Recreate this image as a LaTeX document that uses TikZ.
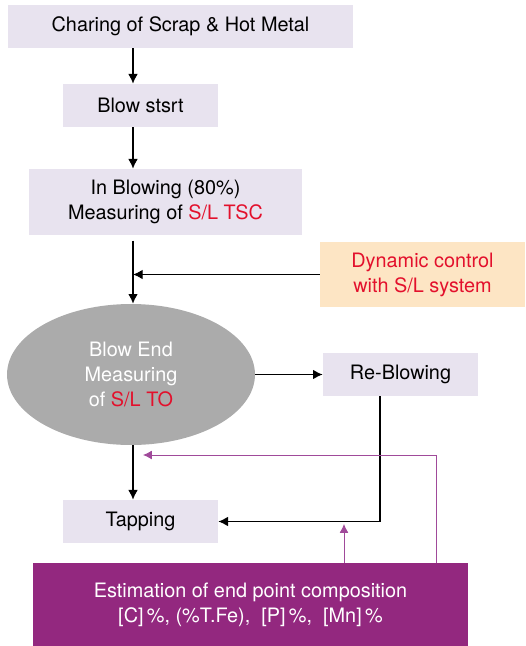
\documentclass[tikz,border=0pt]{standalone}
\usepackage{fontspec}
\setmainfont{TeX Gyre Heros}
\usepackage{xcolor}
\usepackage{tikz}
\usetikzlibrary{arrows.meta,positioning,shapes.geometric}

\begin{document}
\begin{tikzpicture}[
    x=0.02cm, y=-0.02cm,
    font=\fontsize{11.3}{14.2}\selectfont,
    %styles
    stepbox/.style={fill=stepcolor,inner sep=0pt,align=center,minimum height=0.86cm},
    arr/.style={-{Latex[length=5.5pt,width=5.5pt]},line width=0.7pt},
    feed/.style={-{Latex[length=5pt,width=5pt]},line width=0.5pt,linecolor},
  ]
  %colors
  \definecolor{stepcolor}{HTML}{E8E3EF}
  \definecolor{dyncolor}{HTML}{FDE5C4}
  \definecolor{endcolor}{HTML}{ABABAB}
  \definecolor{estcolor}{HTML}{93287F}
  \definecolor{linecolor}{HTML}{A04A9A}
  \definecolor{slcolor}{HTML}{E3102C}
  \useasboundingbox (0,0) rectangle (525,646);

  \node[stepbox,minimum width=6.9cm] (charge) at (180.5,26.5) {Charing of Scrap \& Hot Metal};
  \node[stepbox,minimum width=3.1cm] (start) at (140.5,105.5) {Blow stsrt};
  \node[stepbox,minimum width=5.46cm,minimum height=1.32cm] (inblow) at (165.5,202)
  {In Blowing (80\%)\\Measuring of \textcolor{slcolor}{S/L TSC}};
  \node[fill=dyncolor,inner sep=0pt,align=center,minimum width=4.1cm,minimum height=1.3cm,text=slcolor]
  (dyn) at (422.5,274.5) {Dynamic control\\with S/L system};
  \node[ellipse,fill=endcolor,inner sep=0pt,align=center,minimum width=4.96cm,minimum height=2.82cm,text=white]
  (blowend) at (131,374.5) {Blow End\\Measuring\\of \textcolor{slcolor}{S/L TO}};
  \node[stepbox,minimum width=3.1cm] (reblow) at (400.5,374.5) {Re-Blowing};
  \node[stepbox,minimum width=3.1cm] (tap) at (140.5,521.5) {Tapping};
  \node[fill=estcolor,inner sep=0pt,align=center,minimum width=8.7cm,minimum height=1.66cm,text=white]
  (est) at (250.5,604.5) {Estimation of end point composition\\\relax
    [C]\,\%, (\%T.Fe),\ \ [P]\,\%,\ \ [Mn]\,\%};

  %main line
  \coordinate (col) at (133,0);
  \draw[arr] (charge.south -| col) -- (start.north -| col);
  \draw[arr] (start.south -| col) -- (inblow.north -| col);
  \draw[arr,shorten <=3pt] (inblow.south -| col) -- (blowend.north -| col);
  \coordinate (join) at (col |- dyn);
  \draw[arr] (dyn.west) -- (join);
  \draw[arr] (blowend.east) -- (reblow.west);
  \draw[arr] (blowend.south -| col) -- (tap.north -| col);
  \coordinate (rbx) at (380,0);
  \draw[arr] (reblow.south -| rbx) |- (tap.east);

  %feedback
  \coordinate (fb) at (143,455);
  \coordinate (fbx) at (436,0);
  \draw[feed] (est.north -| fbx) |- (fb);
  \coordinate (tapin) at (344,524);
  \draw[feed] (est.north -| tapin) -- (tapin);
\end{tikzpicture}
\end{document}
